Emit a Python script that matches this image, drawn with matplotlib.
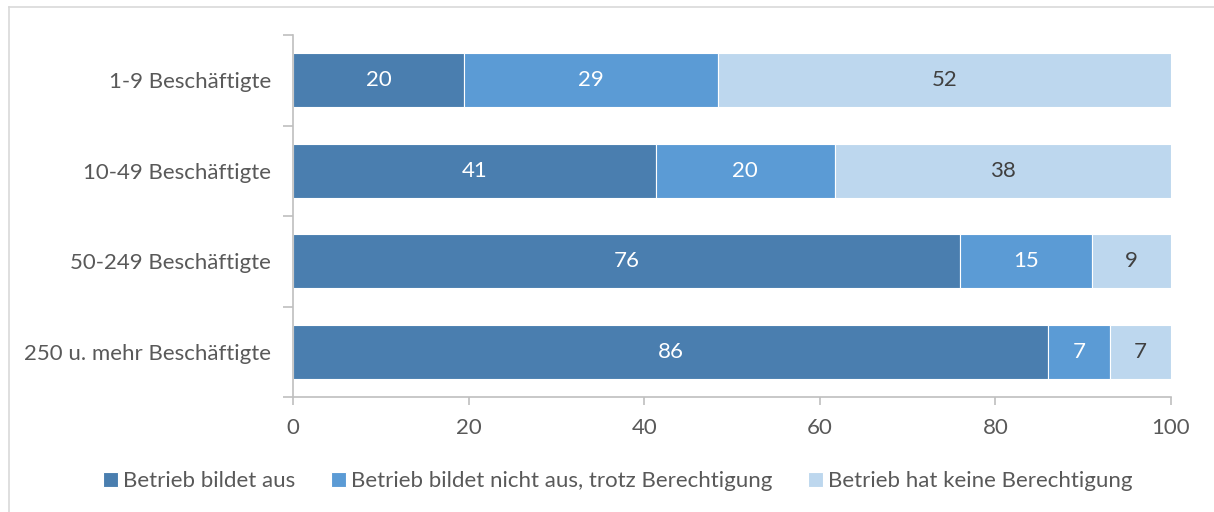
import numpy as np
import matplotlib.pyplot as plt
from matplotlib.lines import Line2D

categories = ['1-9 Beschäftigte', '10-49 Beschäftigte',
              '50-249 Beschäftigte', '250 u. mehr Beschäftigte']
series_names = ['Betrieb bildet aus',
                'Betrieb bildet nicht aus, trotz Berechtigung',
                'Betrieb hat keine Berechtigung']
bildet_aus = [19.5, 41.3, 76.0, 86.0]
nicht_aus = [28.9, 20.4, 15.0, 7.0]
keine_berechtigung = [51.6, 38.3, 9.0, 7.0]
x_ticks = [0, 20, 40, 60, 80, 100]

colors = ['#4A7EAF', '#5B9BD5', '#BDD7EE']
label_colors = ['white', 'white', '#404040']
text_color = '#595959'
axis_color = '#BFBFBF'
fs = 16

plt.rcParams['font.family'] = ['Lato', 'DejaVu Sans']

fig = plt.figure(figsize=(12.14, 5.12), dpi=100)
ax = fig.add_axes([293 / 1214, 1 - 397 / 512, 878 / 1214, 362 / 512])

y = np.arange(len(categories))
left = np.zeros(len(categories))
for vals, name, col, lcol in zip(
        [bildet_aus, nicht_aus, keine_berechtigung],
        series_names, colors, label_colors):
    vals = np.array(vals)
    bars = ax.barh(y, vals, left=left, height=0.6, color=col,
                   edgecolor='white', linewidth=0.8, label=name)
    for b, v in zip(bars, vals):
        ax.text(b.get_x() + b.get_width() / 2, b.get_y() + b.get_height() / 2,
                '{:.0f}'.format(v), ha='center', va='center',
                color=lcol, fontsize=fs)
    left += vals

ax.set_ylim(len(categories) - 0.5, -0.5)
ax.set_xlim(0, 100)

# category labels between tick marks at band boundaries
ax.set_yticks(np.arange(-0.5, len(categories), 1.0))
ax.set_yticklabels([])
ax.set_yticks(y, minor=True)
ax.set_yticklabels(categories, minor=True)
ax.tick_params(axis='y', which='minor', length=0, pad=16,
               labelsize=fs, labelcolor=text_color)
ax.tick_params(axis='y', which='major', length=7, color=axis_color, width=1.2)

ax.set_xticks(x_ticks)
ax.tick_params(axis='x', length=6, color=axis_color, width=1.2,
               labelsize=fs, labelcolor=text_color, pad=9)

for side in ['top', 'right']:
    ax.spines[side].set_visible(False)
for side in ['left', 'bottom']:
    ax.spines[side].set_color(axis_color)
    ax.spines[side].set_linewidth(1.2)

handles, labels = ax.get_legend_handles_labels()
fig.legend(handles, labels, loc='center', bbox_to_anchor=(618 / 1214, 1 - 481 / 512),
           ncol=3, frameon=False, fontsize=fs, labelcolor=text_color,
           handlelength=0.65, handleheight=0.65, handletextpad=0.25,
           columnspacing=1.6)

# chart area border (only top and left visible)
fig.add_artist(Line2D([8.5 / 1214, 8.5 / 1214], [0, 1 - 6.5 / 512],
                      transform=fig.transFigure, color='#D9D9D9', linewidth=1.2))
fig.add_artist(Line2D([8.5 / 1214, 1], [1 - 6.5 / 512, 1 - 6.5 / 512],
                      transform=fig.transFigure, color='#D9D9D9', linewidth=1.2))

fig.savefig('out.png', dpi=100)
